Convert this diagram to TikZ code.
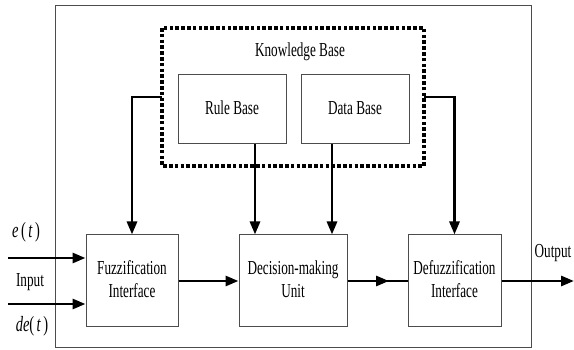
\documentclass[tikz,border=0pt]{standalone}
\usepackage{fontspec}
\usepackage{graphicx}
\setmainfont{Liberation Serif}
\usetikzlibrary{arrows.meta}
\newcommand\vtxt[1]{\scalebox{1}[1.5]{\begin{tabular}{@{}c@{}}#1\end{tabular}}}
\begin{document}
\begin{tikzpicture}[x=1pt,y=-1pt,
  blk/.style={draw=black!70,line width=1pt,inner sep=0pt,align=center,font=\fontsize{13.2}{15.3}\selectfont},
  conn/.style={line width=2.8pt,-{Triangle[length=13pt,width=10pt]}},
  plain/.style={line width=2.8pt},
  lbl/.style={font=\fontsize{13.2}{15.3}\selectfont,inner sep=0pt},
  mlbl/.style={font=\fontsize{14.5}{16}\selectfont,inner sep=0pt}]
\useasboundingbox (0,0) rectangle (574,350);
\draw[black!70,line width=1pt] (55,5.5) rectangle (531,348);
\draw[line width=3.2pt,dash pattern=on 3.6pt off 2.2pt] (162,28) rectangle (424,166);
\node[lbl] (kb) at (300,52) {\vtxt{Knowledge Base}};
\node[blk,minimum width=108pt,minimum height=69pt] (rule) at (232,109.5) {\vtxt{Rule Base}};
\node[blk,minimum width=108pt,minimum height=69pt] (data) at (355,109.5) {\vtxt{Data Base}};
\coordinate (kl) at (162,97);
\coordinate (kr) at (424,97);
\node[blk,minimum width=92pt,minimum height=92pt] (fuzz) at (132,281) {\vtxt{Fuzzification\\Interface}};
\node[blk,minimum width=108pt,minimum height=92pt] (dec) at (293,281) {\vtxt{Decision-making\\Unit}};
\node[blk,minimum width=93pt,minimum height=92pt] (defz) at (454.5,281) {\vtxt{Defuzzification\\Interface}};
\draw[conn] (kl) -| (fuzz.north);
\draw[conn] (kr) -| (defz.north);
\draw[conn] (rule.south -| 255,0) -- (dec.north -| 255,0);
\draw[conn] (data.south -| 332,0) -- (dec.north -| 332,0);
\draw[conn] (fuzz.east) -- (dec.west);
\draw[plain] (dec.east) -- (defz.west);
\draw[conn] (dec.east) -- (389,281);
\coordinate (outend) at (574,281);
\draw[conn] (defz.east) -- (outend);
\node[lbl] (out) at (553,253) {\vtxt{Output}};
\coordinate (ein) at (8,258);
\coordinate (dein) at (8,304);
\draw[conn] (ein) -- (fuzz.west |- ein);
\draw[conn] (dein) -- (fuzz.west |- dein);
\node[mlbl] (et) at (26,233) {\vtxt{\textit{e}\,(\,\textit{t}\,)}};
\node[lbl] (inp) at (30,282) {\vtxt{Input}};
\node[mlbl] (det) at (32,327) {\vtxt{\textit{de}(\,\textit{t}\,)}};
\end{tikzpicture}
\end{document}
